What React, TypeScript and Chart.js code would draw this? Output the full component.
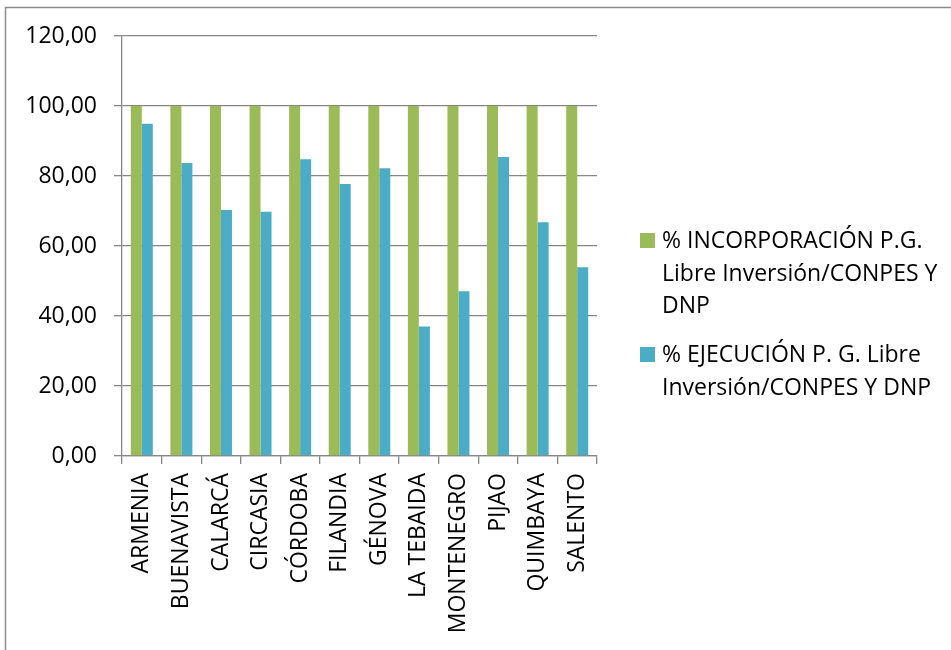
import React, { useEffect, useRef } from "react";
import { Chart, registerables } from "chart.js";

Chart.register(...registerables);

const categories = [
  "ARMENIA",
  "BUENAVISTA",
  "CALARCÁ",
  "CIRCASIA",
  "CÓRDOBA",
  "FILANDIA",
  "GÉNOVA",
  "LA TEBAIDA",
  "MONTENEGRO",
  "PIJAO",
  "QUIMBAYA",
  "SALENTO",
];

const incorporacion = [100, 100, 100, 100, 100, 100, 100, 100, 100, 100, 100, 100];
const ejecucion = [94.9, 83.7, 70.3, 69.8, 84.8, 77.7, 82.2, 37.0, 47.1, 85.4, 66.8, 53.9];

const seriesLabels = [
  "% INCORPORACIÓN P.G. Libre Inversión/CONPES Y DNP",
  "% EJECUCIÓN P. G. Libre Inversión/CONPES Y DNP",
];
const legendLines = [
  ["% INCORPORACIÓN P.G.", "Libre Inversión/CONPES Y", "DNP"],
  ["% EJECUCIÓN P. G. Libre", "Inversión/CONPES Y DNP"],
];

const yMin = 0;
const yMax = 120;
const yStep = 20;

const GREEN = "#9BBB59";
const BLUE = "#4BACC6";
const GRID = "#868686";
const FONT = "'Open Sans', sans-serif";

const legendPlugin = {
  id: "sideLegend",
  afterDraw(chart: any) {
    const ctx = chart.ctx;
    const area = chart.chartArea;
    const x0 = area.right + 43;
    const lineH = 32.5;
    const firstBaselines = [248, 362];
    ctx.save();
    ctx.font = `23px ${FONT}`;
    ctx.textBaseline = "alphabetic";
    ctx.textAlign = "left";
    chart.data.datasets.forEach((ds: any, i: number) => {
      const b = firstBaselines[i];
      ctx.fillStyle = ds.backgroundColor;
      ctx.fillRect(x0, b - 15, 15, 15);
      ctx.fillStyle = "#000";
      legendLines[i].forEach((line, j) => {
        ctx.fillText(line, x0 + 22, b + j * lineH);
      });
    });
    ctx.restore();
  },
};

const framePlugin = {
  id: "frame",
  beforeDraw(chart: any) {
    const ctx = chart.ctx;
    ctx.save();
    ctx.strokeStyle = "#8c8c8c";
    ctx.lineWidth = 1.5;
    ctx.beginPath();
    ctx.moveTo(5.5, chart.height);
    ctx.lineTo(5.5, 7.5);
    ctx.lineTo(chart.width, 7.5);
    ctx.stroke();
    ctx.restore();
  },
};

export default function App() {
  const canvasRef = useRef<HTMLCanvasElement | null>(null);

  useEffect(() => {
    if (!canvasRef.current) return;
    const chart = new Chart(canvasRef.current, {
      type: "bar",
      data: {
        labels: categories,
        datasets: [
          {
            label: seriesLabels[0],
            data: incorporacion,
            backgroundColor: GREEN,
            borderWidth: 0,
            barPercentage: 1,
            categoryPercentage: 0.556,
          },
          {
            label: seriesLabels[1],
            data: ejecucion,
            backgroundColor: BLUE,
            borderWidth: 0,
            barPercentage: 1,
            categoryPercentage: 0.556,
          },
        ],
      },
      options: {
        animation: false,
        responsive: false,
        devicePixelRatio: 1,
        layout: { padding: { top: 36, right: 354, left: 0, bottom: 0 } },
        plugins: {
          legend: { display: false },
          tooltip: { enabled: false },
        },
        scales: {
          x: {
            offset: true,
            grid: {
              display: true,
              drawOnChartArea: false,
              drawTicks: true,
              tickLength: 8,
              color: GRID,
              lineWidth: 1.3,
              offset: true,
            },
            border: { color: GRID, width: 1.3 },
            ticks: {
              maxRotation: 90,
              minRotation: 90,
              padding: 9,
              color: "#000",
              font: { family: FONT, size: 23 },
              autoSkip: false,
            },
            afterFit(scale: any) {
              scale.height = 194;
            },
          },
          y: {
            min: yMin,
            max: yMax,
            ticks: {
              stepSize: yStep,
              padding: 17,
              color: "#000",
              font: { family: FONT, size: 23 },
              callback: (v: any) => Number(v).toFixed(2).replace(".", ","),
            },
            grid: {
              color: GRID,
              lineWidth: 1.3,
              tickLength: 8,
            },
            border: { color: GRID, width: 1.3 },
            afterFit(scale: any) {
              scale.width = 122;
            },
          },
        },
      },
      plugins: [legendPlugin, framePlugin],
    });
    return () => chart.destroy();
  }, []);

  return (
    <div style={{ position: "fixed", left: 0, top: 0, width: 951, height: 650, background: "#fff" }}>
      <canvas ref={canvasRef} width={951} height={650} />
    </div>
  );
}
